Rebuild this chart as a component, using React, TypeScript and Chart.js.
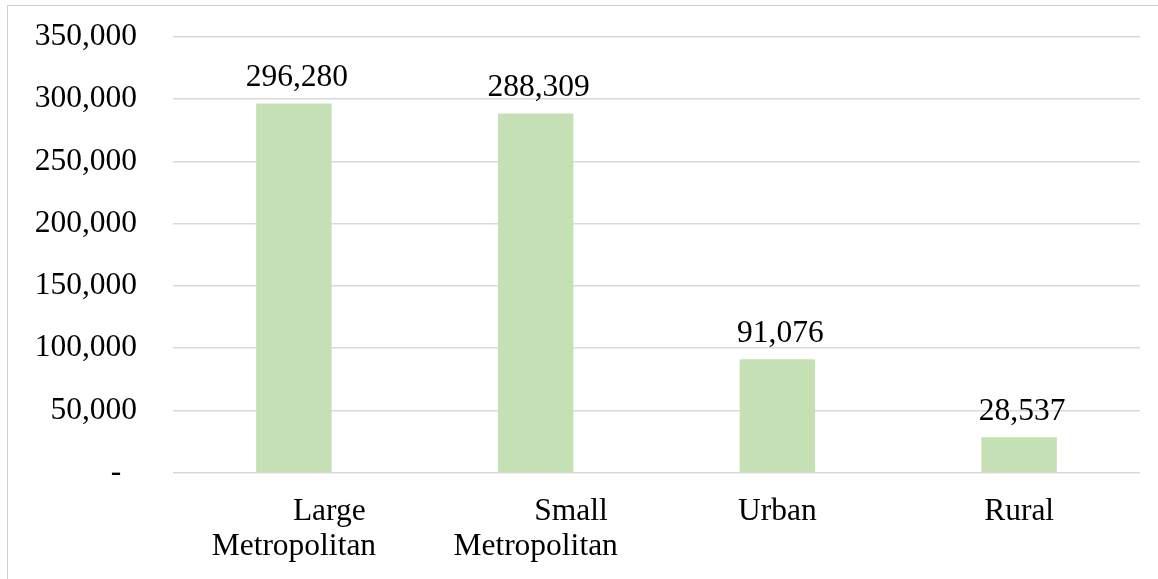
import React, { useEffect, useRef } from "react";
import { Chart, registerables } from "chart.js";

Chart.register(...registerables);

const categories: string[][] = [
  ["         Large", "Metropolitan"],
  ["         Small", "Metropolitan"],
  ["Urban"],
  ["Rural"],
];
const values: number[] = [296280, 288309, 91076, 28537];
const yMin = 0;
const yMax = 350000;
const yStep = 50000;

const FONT = '"Liberation Serif", "Times New Roman", serif';
const FONT_SIZE = 31.5;

const fmt = (v: number) => v.toLocaleString("en-US");

const valueLabels = {
  id: "valueLabels",
  afterDatasetsDraw(chart: any) {
    const ctx = chart.ctx;
    const meta = chart.getDatasetMeta(0);
    ctx.save();
    ctx.font = `${FONT_SIZE}px ${FONT}`;
    ctx.fillStyle = "#000000";
    ctx.textAlign = "center";
    ctx.textBaseline = "alphabetic";
    meta.data.forEach((el: any, i: number) => {
      ctx.fillText(fmt(values[i]), el.x + 3, el.y - 17.5);
    });
    ctx.restore();
  },
};

export default function App() {
  const ref = useRef<HTMLCanvasElement | null>(null);
  useEffect(() => {
    if (!ref.current) return;
    const chart = new Chart(ref.current, {
      type: "bar",
      data: {
        labels: categories,
        datasets: [
          {
            data: values,
            backgroundColor: "#c5e0b4",
            borderWidth: 0,
            barPercentage: 0.312,
            categoryPercentage: 1,
          },
        ],
      },
      options: {
        animation: false,
        responsive: false,
        maintainAspectRatio: false,
        layout: { padding: { top: 36.7, right: 18, left: 0, bottom: 0 } },
        plugins: {
          legend: { display: false },
          tooltip: { enabled: false },
        },
        scales: {
          x: {
            grid: { display: false, drawTicks: false },
            border: { display: false },
            ticks: {
              color: "#000000",
              font: { family: FONT, size: FONT_SIZE, lineHeight: 1.13 },
              padding: 21,
              maxRotation: 0,
              autoSkip: false,
            },
            afterFit: (scale: any) => {
              scale.height = 106.3;
              scale.paddingLeft = 0;
              scale.paddingRight = 0;
            },
          },
          y: {
            min: yMin,
            max: yMax,
            grid: { color: "#d9d9d9", lineWidth: 1.5, drawTicks: false },
            border: { display: false },
            ticks: {
              stepSize: yStep,
              color: "#000000",
              font: { family: FONT, size: FONT_SIZE },
              padding: 36,
              callback: (v: any) => (Number(v) === 0 ? "-  " : fmt(Number(v))),
            },
            afterFit: (scale: any) => {
              scale.width = 173;
              scale.paddingTop = 0;
              scale.paddingBottom = 0;
            },
          },
        },
      },
      plugins: [valueLabels],
    });
    return () => chart.destroy();
  }, []);

  return (
    <div
      style={{
        position: "fixed",
        left: 0,
        top: 0,
        width: 1158,
        height: 579,
        overflow: "hidden",
        background: "#ffffff",
      }}
    >
      <div
        style={{
          position: "absolute",
          left: 7,
          top: 5,
          width: 1300,
          height: 700,
          borderLeft: "1px solid #d0d0d0",
          borderTop: "1px solid #d0d0d0",
        }}
      />
      <canvas
        ref={ref}
        width={1158}
        height={579}
        style={{ position: "absolute", left: 0, top: 0, width: 1158, height: 579 }}
      />
    </div>
  );
}
